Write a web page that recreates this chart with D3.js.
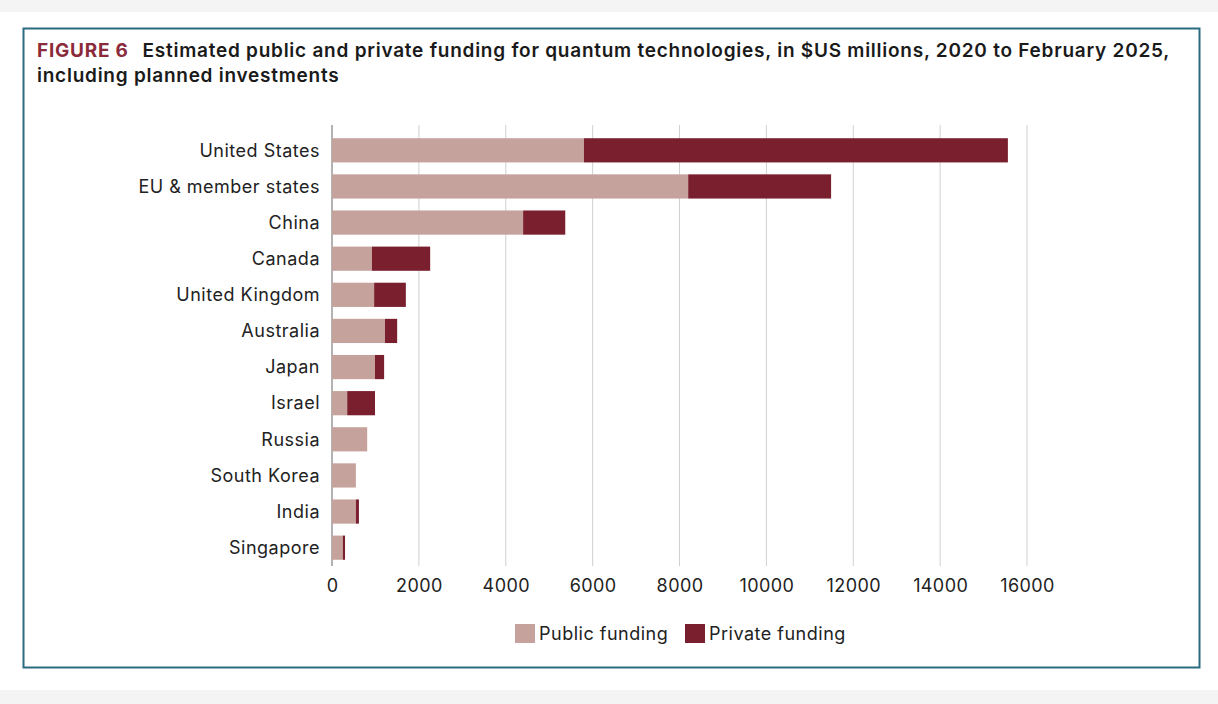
<!DOCTYPE html><html><head><meta charset="utf-8">
<script src="https://cdn.jsdelivr.net/npm/d3@7"></script>
<style>body{margin:0;background:#f4f4f4;font-family:Inter,"Noto Sans",sans-serif}</style></head><body>
<svg id="c" width="1218" height="704"></svg>
<script>
const categories=["United States","EU & member states","China","Canada","United Kingdom","Australia","Japan","Israel","Russia","South Korea","India","Singapore"];
const publicFunding=[5800,8200,4400,920,970,1220,990,350,810,550,550,250];
const privateFunding=[9760,3290,970,1340,730,280,210,640,0,0,70,50];
const xTicks=[0,2000,4000,6000,8000,10000,12000,14000,16000];
const seriesNames=["Public funding","Private funding"];
const colors=["#c6a29c","#7a1f2e"];

const svg=d3.select("#c");
svg.append("rect").attr("x",0).attr("y",12).attr("width",1218).attr("height",678).attr("fill","#fff");
svg.append("rect").attr("x",23.5).attr("y",28.5).attr("width",1176).attr("height",639).attr("fill","#fff").attr("stroke","#2b6a80").attr("stroke-width",2);
const t=svg.append("text").attr("x",37).attr("y",57).attr("font-size",19).attr("letter-spacing",0.75).attr("font-weight",600).attr("fill","#1a1a1a");
t.append("tspan").attr("fill","#8a2a3a").attr("font-weight",700).text("FIGURE 6");
t.append("tspan").attr("dx",14).text("Estimated public and private funding for quantum technologies, in $US millions, 2020 to February 2025,");
svg.append("text").attr("x",37).attr("y",82).attr("font-size",19).attr("letter-spacing",0.75).attr("font-weight",600).attr("fill","#1a1a1a").text("including planned investments");

const x=d3.scaleLinear().domain([0,16000]).range([332,1027]);
const y=d3.scaleBand().domain(categories).range([131,567]).paddingInner(0.33).paddingOuter(0.2);
const g=svg.append("g");
g.selectAll("line.grid").data(xTicks).join("line").attr("x1",d=>x(d)).attr("x2",d=>x(d)).attr("y1",125).attr("y2",566).attr("stroke",d=>d===0?"#666":"#d0d0d0");
categories.forEach((c,i)=>{
  g.append("rect").attr("x",x(0)).attr("y",y(c)).attr("height",y.bandwidth()).attr("width",x(publicFunding[i])-x(0)).attr("fill",colors[0]);
  g.append("rect").attr("x",x(publicFunding[i])).attr("y",y(c)).attr("height",y.bandwidth()).attr("width",x(publicFunding[i]+privateFunding[i])-x(publicFunding[i])).attr("fill",colors[1]);
  g.append("text").attr("x",320).attr("y",y(c)+y.bandwidth()/2).attr("dy","0.35em").attr("text-anchor","end").attr("font-size",18).attr("letter-spacing",0.5).attr("fill","#222").text(c);
});
const ax=svg.append("g").attr("transform","translate(0,566)").call(d3.axisBottom(x).tickValues(xTicks).tickSize(0).tickPadding(13).tickFormat(d3.format("d")));
ax.select(".domain").remove();
ax.selectAll("text").attr("font-size",18).attr("letter-spacing",0.4).attr("fill","#222").attr("font-family","Inter,'Noto Sans',sans-serif");
const lg=svg.append("g");
const lx=[515,685];
seriesNames.forEach((s,i)=>{
  lg.append("rect").attr("x",lx[i]).attr("y",624).attr("width",20).attr("height",19).attr("fill",colors[i]);
  lg.append("text").attr("x",lx[i]+24).attr("y",634).attr("dy","0.35em").attr("font-size",18).attr("letter-spacing",0.5).attr("fill","#222").text(s);
});
</script></body></html>
